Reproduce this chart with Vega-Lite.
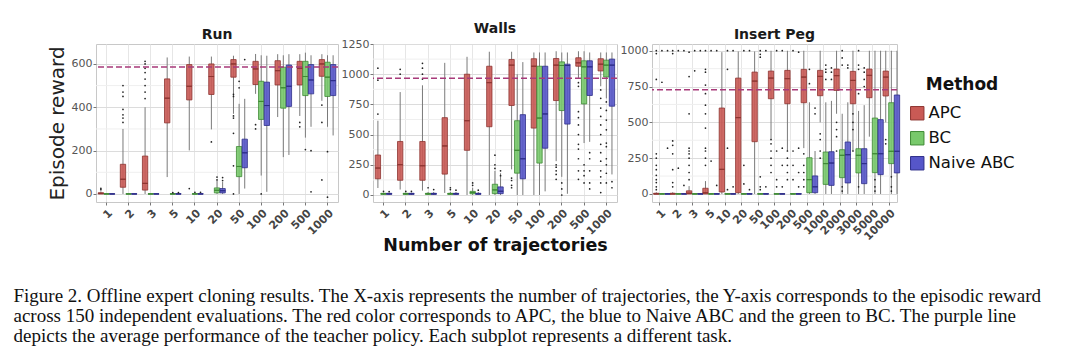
{
  "$schema": "https://vega.github.io/schema/vega-lite/v6.json",
  "background": "white",
  "padding": {"left": 13, "top": 21, "right": 5, "bottom": 5},
  "config": {
    "view": {"stroke": "#c8c8c8", "strokeWidth": 1},
    "font": "DejaVu Sans",
    "title": {"fontSize": 14, "fontWeight": "bold", "color": "#1a1a1a", "offset": 2},
    "axisY": {"labelOverlap": false, "labelColor": "#555", "labelFontSize": 11, "labelPadding": 1, "domain": false, "tickSize": 3, "tickColor": "#777", "gridColor": "#dcdcdc", "format": "d"},
    "legend": {"titleFontSize": 17, "titleFontWeight": "bold", "titleColor": "#111", "titleAnchor": "middle", "labelFontSize": 16.5, "labelColor": "#111", "labelOffset": 3, "symbolType": "square", "symbolSize": 180, "symbolStrokeWidth": 1, "rowPadding": 7, "offset": -25, "padding": 33, "titlePadding": 11}
  },
  "title": {
    "text": [
      "Figure 2. Offline expert cloning results. The X-axis represents the number of trajectories, the Y-axis corresponds to the episodic reward",
      "across 150 independent evaluations. The red color corresponds to APC, the blue to Naive ABC and the green to BC. The purple line",
      "depicts the average performance of the teacher policy. Each subplot represents a different task."
    ],
    "orient": "bottom",
    "anchor": "start",
    "frame": "bounds",
    "dx": -33,
    "offset": 33,
    "font": "Liberation Serif",
    "fontSize": 19,
    "fontWeight": "normal",
    "color": "#111",
    "lineHeight": 20
  },
  "datasets": {
    "minor": [
      {"t":"Run","v":100},{"t":"Run","v":300},{"t":"Run","v":500},
      {"t":"Walls","v":125},{"t":"Walls","v":375},{"t":"Walls","v":625},{"t":"Walls","v":875},{"t":"Walls","v":1125},
      {"t":"Insert Peg","v":125},{"t":"Insert Peg","v":375},{"t":"Insert Peg","v":625},{"t":"Insert Peg","v":875}
    ],
    "stats": [
      {"t":"Run","n":1,"m":"APC","lo":0,"q1":0,"md":2,"q3":6,"hi":12},
      {"t":"Run","n":1,"m":"BC","lo":0,"q1":0,"md":0,"q3":1,"hi":2},
      {"t":"Run","n":1,"m":"Naive ABC","lo":0,"q1":0,"md":0,"q3":1,"hi":2},
      {"t":"Run","n":2,"m":"APC","lo":0,"q1":31,"md":68,"q3":137,"hi":300},
      {"t":"Run","n":2,"m":"BC","lo":0,"q1":0,"md":0,"q3":1,"hi":2},
      {"t":"Run","n":2,"m":"Naive ABC","lo":0,"q1":0,"md":0,"q3":1,"hi":2},
      {"t":"Run","n":3,"m":"APC","lo":0,"q1":18,"md":49,"q3":175,"hi":400},
      {"t":"Run","n":3,"m":"BC","lo":0,"q1":0,"md":0,"q3":1,"hi":2},
      {"t":"Run","n":3,"m":"Naive ABC","lo":0,"q1":0,"md":0,"q3":1,"hi":2},
      {"t":"Run","n":5,"m":"APC","lo":78,"q1":328,"md":442,"q3":531,"hi":630},
      {"t":"Run","n":5,"m":"BC","lo":0,"q1":0,"md":0,"q3":1,"hi":2},
      {"t":"Run","n":5,"m":"Naive ABC","lo":0,"q1":0,"md":0,"q3":1,"hi":2},
      {"t":"Run","n":10,"m":"APC","lo":201,"q1":434,"md":497,"q3":597,"hi":634},
      {"t":"Run","n":10,"m":"BC","lo":0,"q1":0,"md":0,"q3":1,"hi":2},
      {"t":"Run","n":10,"m":"Naive ABC","lo":0,"q1":0,"md":0,"q3":1,"hi":2},
      {"t":"Run","n":20,"m":"APC","lo":298,"q1":459,"md":542,"q3":600,"hi":634},
      {"t":"Run","n":20,"m":"BC","lo":0,"q1":5,"md":17,"q3":28,"hi":60},
      {"t":"Run","n":20,"m":"Naive ABC","lo":0,"q1":5,"md":15,"q3":25,"hi":55},
      {"t":"Run","n":50,"m":"APC","lo":370,"q1":539,"md":600,"q3":620,"hi":638},
      {"t":"Run","n":50,"m":"BC","lo":0,"q1":80,"md":127,"q3":219,"hi":416},
      {"t":"Run","n":50,"m":"Naive ABC","lo":25,"q1":121,"md":190,"q3":253,"hi":439},
      {"t":"Run","n":100,"m":"APC","lo":462,"q1":505,"md":577,"q3":612,"hi":646},
      {"t":"Run","n":100,"m":"BC","lo":85,"q1":344,"md":427,"q3":520,"hi":640},
      {"t":"Run","n":100,"m":"Naive ABC","lo":10,"q1":316,"md":408,"q3":516,"hi":638},
      {"t":"Run","n":200,"m":"APC","lo":355,"q1":503,"md":569,"q3":615,"hi":645},
      {"t":"Run","n":200,"m":"BC","lo":170,"q1":396,"md":490,"q3":585,"hi":640},
      {"t":"Run","n":200,"m":"Naive ABC","lo":180,"q1":404,"md":497,"q3":595,"hi":645},
      {"t":"Run","n":500,"m":"APC","lo":360,"q1":503,"md":580,"q3":612,"hi":645},
      {"t":"Run","n":500,"m":"BC","lo":260,"q1":454,"md":542,"q3":612,"hi":652},
      {"t":"Run","n":500,"m":"Naive ABC","lo":310,"q1":462,"md":526,"q3":597,"hi":640},
      {"t":"Run","n":1000,"m":"APC","lo":430,"q1":543,"md":600,"q3":620,"hi":645},
      {"t":"Run","n":1000,"m":"BC","lo":310,"q1":450,"md":539,"q3":608,"hi":640},
      {"t":"Run","n":1000,"m":"Naive ABC","lo":270,"q1":454,"md":523,"q3":597,"hi":640},

      {"t":"Walls","n":1,"m":"APC","lo":58,"q1":134,"md":223,"q3":331,"hi":615},
      {"t":"Walls","n":1,"m":"BC","lo":0,"q1":5,"md":10,"q3":14,"hi":20},
      {"t":"Walls","n":1,"m":"Naive ABC","lo":0,"q1":5,"md":10,"q3":14,"hi":20},
      {"t":"Walls","n":2,"m":"APC","lo":45,"q1":122,"md":251,"q3":443,"hi":852},
      {"t":"Walls","n":2,"m":"BC","lo":0,"q1":5,"md":10,"q3":14,"hi":20},
      {"t":"Walls","n":2,"m":"Naive ABC","lo":0,"q1":5,"md":10,"q3":14,"hi":20},
      {"t":"Walls","n":3,"m":"APC","lo":36,"q1":122,"md":242,"q3":443,"hi":908},
      {"t":"Walls","n":3,"m":"BC","lo":0,"q1":5,"md":10,"q3":14,"hi":25},
      {"t":"Walls","n":3,"m":"Naive ABC","lo":0,"q1":5,"md":10,"q3":14,"hi":25},
      {"t":"Walls","n":5,"m":"APC","lo":17,"q1":173,"md":406,"q3":640,"hi":1094},
      {"t":"Walls","n":5,"m":"BC","lo":0,"q1":5,"md":10,"q3":14,"hi":25},
      {"t":"Walls","n":5,"m":"Naive ABC","lo":0,"q1":5,"md":10,"q3":14,"hi":25},
      {"t":"Walls","n":10,"m":"APC","lo":0,"q1":370,"md":615,"q3":1000,"hi":1144},
      {"t":"Walls","n":10,"m":"BC","lo":0,"q1":10,"md":20,"q3":30,"hi":60},
      {"t":"Walls","n":10,"m":"Naive ABC","lo":0,"q1":5,"md":10,"q3":14,"hi":25},
      {"t":"Walls","n":20,"m":"APC","lo":0,"q1":565,"md":930,"q3":1066,"hi":1186},
      {"t":"Walls","n":20,"m":"BC","lo":0,"q1":11,"md":42,"q3":89,"hi":200},
      {"t":"Walls","n":20,"m":"Naive ABC","lo":0,"q1":11,"md":31,"q3":67,"hi":180},
      {"t":"Walls","n":50,"m":"APC","lo":212,"q1":741,"md":1075,"q3":1122,"hi":1186},
      {"t":"Walls","n":50,"m":"BC","lo":0,"q1":181,"md":370,"q3":615,"hi":1000},
      {"t":"Walls","n":50,"m":"Naive ABC","lo":0,"q1":134,"md":300,"q3":665,"hi":1100},
      {"t":"Walls","n":100,"m":"APC","lo":0,"q1":554,"md":1066,"q3":1128,"hi":1180},
      {"t":"Walls","n":100,"m":"BC","lo":0,"q1":264,"md":637,"q3":1066,"hi":1180},
      {"t":"Walls","n":100,"m":"Naive ABC","lo":30,"q1":387,"md":671,"q3":1066,"hi":1180},
      {"t":"Walls","n":200,"m":"APC","lo":280,"q1":782,"md":1075,"q3":1130,"hi":1190},
      {"t":"Walls","n":200,"m":"BC","lo":150,"q1":699,"md":1072,"q3":1102,"hi":1180},
      {"t":"Walls","n":200,"m":"Naive ABC","lo":10,"q1":587,"md":1072,"q3":1083,"hi":1180},
      {"t":"Walls","n":500,"m":"APC","lo":960,"q1":1066,"md":1094,"q3":1136,"hi":1190},
      {"t":"Walls","n":500,"m":"BC","lo":430,"q1":754,"md":1061,"q3":1111,"hi":1190},
      {"t":"Walls","n":500,"m":"Naive ABC","lo":440,"q1":824,"md":1061,"q3":1111,"hi":1180},
      {"t":"Walls","n":1000,"m":"APC","lo":900,"q1":1027,"md":1083,"q3":1128,"hi":1180},
      {"t":"Walls","n":1000,"m":"BC","lo":800,"q1":977,"md":1075,"q3":1116,"hi":1180},
      {"t":"Walls","n":1000,"m":"Naive ABC","lo":170,"q1":735,"md":1075,"q3":1125,"hi":1180},

      {"t":"Insert Peg","n":1,"m":"APC","lo":0,"q1":0,"md":0,"q3":5,"hi":12},
      {"t":"Insert Peg","n":1,"m":"BC","lo":0,"q1":0,"md":0,"q3":2,"hi":5},
      {"t":"Insert Peg","n":1,"m":"Naive ABC","lo":0,"q1":0,"md":0,"q3":2,"hi":5},
      {"t":"Insert Peg","n":2,"m":"APC","lo":0,"q1":0,"md":0,"q3":5,"hi":12},
      {"t":"Insert Peg","n":2,"m":"BC","lo":0,"q1":0,"md":0,"q3":2,"hi":5},
      {"t":"Insert Peg","n":2,"m":"Naive ABC","lo":0,"q1":0,"md":0,"q3":2,"hi":5},
      {"t":"Insert Peg","n":3,"m":"APC","lo":0,"q1":0,"md":5,"q3":22,"hi":55},
      {"t":"Insert Peg","n":3,"m":"BC","lo":0,"q1":0,"md":0,"q3":2,"hi":5},
      {"t":"Insert Peg","n":3,"m":"Naive ABC","lo":0,"q1":0,"md":0,"q3":2,"hi":5},
      {"t":"Insert Peg","n":5,"m":"APC","lo":0,"q1":0,"md":8,"q3":40,"hi":90},
      {"t":"Insert Peg","n":5,"m":"BC","lo":0,"q1":0,"md":0,"q3":2,"hi":5},
      {"t":"Insert Peg","n":5,"m":"Naive ABC","lo":0,"q1":0,"md":0,"q3":2,"hi":5},
      {"t":"Insert Peg","n":10,"m":"APC","lo":0,"q1":14,"md":172,"q3":600,"hi":990},
      {"t":"Insert Peg","n":10,"m":"BC","lo":0,"q1":0,"md":0,"q3":2,"hi":5},
      {"t":"Insert Peg","n":10,"m":"Naive ABC","lo":0,"q1":0,"md":0,"q3":2,"hi":5},
      {"t":"Insert Peg","n":20,"m":"APC","lo":0,"q1":9,"md":533,"q3":809,"hi":995},
      {"t":"Insert Peg","n":20,"m":"BC","lo":0,"q1":0,"md":0,"q3":2,"hi":5},
      {"t":"Insert Peg","n":20,"m":"Naive ABC","lo":0,"q1":0,"md":0,"q3":2,"hi":5},
      {"t":"Insert Peg","n":50,"m":"APC","lo":0,"q1":365,"md":788,"q3":851,"hi":995},
      {"t":"Insert Peg","n":50,"m":"BC","lo":0,"q1":0,"md":0,"q3":2,"hi":5},
      {"t":"Insert Peg","n":50,"m":"Naive ABC","lo":0,"q1":0,"md":0,"q3":2,"hi":5},
      {"t":"Insert Peg","n":100,"m":"APC","lo":380,"q1":665,"md":809,"q3":858,"hi":1000},
      {"t":"Insert Peg","n":100,"m":"BC","lo":0,"q1":0,"md":0,"q3":2,"hi":5},
      {"t":"Insert Peg","n":100,"m":"Naive ABC","lo":0,"q1":0,"md":0,"q3":2,"hi":5},
      {"t":"Insert Peg","n":200,"m":"APC","lo":300,"q1":630,"md":805,"q3":863,"hi":1000},
      {"t":"Insert Peg","n":200,"m":"BC","lo":0,"q1":0,"md":0,"q3":2,"hi":5},
      {"t":"Insert Peg","n":200,"m":"Naive ABC","lo":0,"q1":0,"md":0,"q3":2,"hi":5},
      {"t":"Insert Peg","n":500,"m":"APC","lo":320,"q1":637,"md":816,"q3":870,"hi":1000},
      {"t":"Insert Peg","n":500,"m":"BC","lo":0,"q1":9,"md":100,"q3":253,"hi":640},
      {"t":"Insert Peg","n":500,"m":"Naive ABC","lo":0,"q1":9,"md":50,"q3":126,"hi":300},
      {"t":"Insert Peg","n":1000,"m":"APC","lo":500,"q1":686,"md":821,"q3":863,"hi":1000},
      {"t":"Insert Peg","n":1000,"m":"BC","lo":0,"q1":67,"md":212,"q3":293,"hi":640},
      {"t":"Insert Peg","n":1000,"m":"Naive ABC","lo":0,"q1":60,"md":216,"q3":295,"hi":650},
      {"t":"Insert Peg","n":2000,"m":"APC","lo":560,"q1":723,"md":826,"q3":872,"hi":1000},
      {"t":"Insert Peg","n":2000,"m":"BC","lo":0,"q1":114,"md":270,"q3":309,"hi":560},
      {"t":"Insert Peg","n":2000,"m":"Naive ABC","lo":0,"q1":77,"md":274,"q3":363,"hi":640},
      {"t":"Insert Peg","n":3000,"m":"APC","lo":300,"q1":630,"md":793,"q3":856,"hi":1000},
      {"t":"Insert Peg","n":3000,"m":"BC","lo":0,"q1":147,"md":270,"q3":316,"hi":580},
      {"t":"Insert Peg","n":3000,"m":"Naive ABC","lo":0,"q1":72,"md":212,"q3":316,"hi":620},
      {"t":"Insert Peg","n":5000,"m":"APC","lo":400,"q1":672,"md":828,"q3":872,"hi":1000},
      {"t":"Insert Peg","n":5000,"m":"BC","lo":0,"q1":149,"md":281,"q3":530,"hi":1000},
      {"t":"Insert Peg","n":5000,"m":"Naive ABC","lo":0,"q1":135,"md":281,"q3":519,"hi":1000},
      {"t":"Insert Peg","n":10000,"m":"APC","lo":500,"q1":684,"md":816,"q3":858,"hi":1000},
      {"t":"Insert Peg","n":10000,"m":"BC","lo":0,"q1":212,"md":298,"q3":637,"hi":1000},
      {"t":"Insert Peg","n":10000,"m":"Naive ABC","lo":0,"q1":147,"md":298,"q3":691,"hi":1000}
    ],
    "outliers": [
      {"t":"Run","n":1,"m":"APC","v":20},{"t":"Run","n":1,"m":"APC","v":26},
      {"t":"Run","n":2,"m":"APC","v":330},{"t":"Run","n":2,"m":"APC","v":350},{"t":"Run","n":2,"m":"APC","v":365},{"t":"Run","n":2,"m":"APC","v":390},{"t":"Run","n":2,"m":"APC","v":450},{"t":"Run","n":2,"m":"APC","v":470},{"t":"Run","n":2,"m":"APC","v":500},
      {"t":"Run","n":3,"m":"APC","v":440},{"t":"Run","n":3,"m":"APC","v":470},{"t":"Run","n":3,"m":"APC","v":500},{"t":"Run","n":3,"m":"APC","v":530},{"t":"Run","n":3,"m":"APC","v":560},{"t":"Run","n":3,"m":"APC","v":580},{"t":"Run","n":3,"m":"APC","v":600},{"t":"Run","n":3,"m":"APC","v":612},
      {"t":"Run","n":5,"m":"BC","v":6},{"t":"Run","n":5,"m":"Naive ABC","v":6},
      {"t":"Run","n":10,"m":"APC","v":25},{"t":"Run","n":10,"m":"BC","v":8},{"t":"Run","n":10,"m":"Naive ABC","v":8},
      {"t":"Run","n":20,"m":"APC","v":240},{"t":"Run","n":20,"m":"BC","v":65},{"t":"Run","n":20,"m":"BC","v":78},{"t":"Run","n":20,"m":"Naive ABC","v":62},{"t":"Run","n":20,"m":"Naive ABC","v":76},
      {"t":"Run","n":50,"m":"APC","v":460},{"t":"Run","n":50,"m":"APC","v":450},{"t":"Run","n":50,"m":"APC","v":360},{"t":"Run","n":50,"m":"APC","v":350},{"t":"Run","n":50,"m":"APC","v":280},{"t":"Run","n":50,"m":"APC","v":130},{"t":"Run","n":50,"m":"APC","v":0},{"t":"Run","n":50,"m":"BC","v":520},{"t":"Run","n":50,"m":"BC","v":490},{"t":"Run","n":50,"m":"Naive ABC","v":620},
      {"t":"Run","n":100,"m":"APC","v":320},{"t":"Run","n":100,"m":"APC","v":300},{"t":"Run","n":100,"m":"BC","v":0},
      {"t":"Run","n":500,"m":"APC","v":330},{"t":"Run","n":500,"m":"APC","v":310},{"t":"Run","n":500,"m":"BC","v":205},{"t":"Run","n":500,"m":"Naive ABC","v":200},{"t":"Run","n":500,"m":"Naive ABC","v":10},
      {"t":"Run","n":1000,"m":"APC","v":410},{"t":"Run","n":1000,"m":"APC","v":330},{"t":"Run","n":1000,"m":"APC","v":65},{"t":"Run","n":1000,"m":"BC","v":195},{"t":"Run","n":1000,"m":"BC","v":-15},

      {"t":"Walls","n":1,"m":"APC","v":670},{"t":"Walls","n":1,"m":"APC","v":950},{"t":"Walls","n":1,"m":"APC","v":1050},{"t":"Walls","n":1,"m":"BC","v":30},{"t":"Walls","n":1,"m":"Naive ABC","v":28},
      {"t":"Walls","n":2,"m":"APC","v":1000},{"t":"Walls","n":2,"m":"APC","v":1040},{"t":"Walls","n":2,"m":"BC","v":30},{"t":"Walls","n":2,"m":"Naive ABC","v":30},
      {"t":"Walls","n":3,"m":"APC","v":960},{"t":"Walls","n":3,"m":"APC","v":1000},{"t":"Walls","n":3,"m":"APC","v":1050},{"t":"Walls","n":3,"m":"APC","v":1090},{"t":"Walls","n":3,"m":"BC","v":60},{"t":"Walls","n":3,"m":"Naive ABC","v":45},
      {"t":"Walls","n":5,"m":"BC","v":60},{"t":"Walls","n":5,"m":"BC","v":45},{"t":"Walls","n":5,"m":"Naive ABC","v":40},
      {"t":"Walls","n":10,"m":"BC","v":100},{"t":"Walls","n":10,"m":"BC","v":80},{"t":"Walls","n":10,"m":"Naive ABC","v":40},
      {"t":"Walls","n":20,"m":"BC","v":330},{"t":"Walls","n":20,"m":"BC","v":250},{"t":"Walls","n":20,"m":"BC","v":220},{"t":"Walls","n":20,"m":"Naive ABC","v":200},{"t":"Walls","n":20,"m":"Naive ABC","v":160},
      {"t":"Walls","n":50,"m":"APC","v":140},{"t":"Walls","n":50,"m":"APC","v":120},{"t":"Walls","n":50,"m":"APC","v":80},{"t":"Walls","n":50,"m":"APC","v":60},
      {"t":"Walls","n":200,"m":"APC","v":250},{"t":"Walls","n":200,"m":"APC","v":230},{"t":"Walls","n":200,"m":"APC","v":200},{"t":"Walls","n":200,"m":"APC","v":170},{"t":"Walls","n":200,"m":"APC","v":130},{"t":"Walls","n":200,"m":"BC","v":100},{"t":"Walls","n":200,"m":"BC","v":50},{"t":"Walls","n":200,"m":"BC","v":0},
      {"t":"Walls","n":500,"m":"APC","v":930},{"t":"Walls","n":500,"m":"APC","v":900},{"t":"Walls","n":500,"m":"APC","v":690},{"t":"Walls","n":500,"m":"APC","v":640},{"t":"Walls","n":500,"m":"APC","v":580},{"t":"Walls","n":500,"m":"APC","v":500},{"t":"Walls","n":500,"m":"APC","v":420},{"t":"Walls","n":500,"m":"APC","v":380},{"t":"Walls","n":500,"m":"APC","v":300},{"t":"Walls","n":500,"m":"APC","v":200},{"t":"Walls","n":500,"m":"APC","v":130},
      {"t":"Walls","n":500,"m":"BC","v":250},{"t":"Walls","n":500,"m":"BC","v":200},{"t":"Walls","n":500,"m":"BC","v":160},{"t":"Walls","n":500,"m":"BC","v":100},{"t":"Walls","n":500,"m":"Naive ABC","v":350},{"t":"Walls","n":500,"m":"Naive ABC","v":300},{"t":"Walls","n":500,"m":"Naive ABC","v":200},{"t":"Walls","n":500,"m":"Naive ABC","v":100},{"t":"Walls","n":500,"m":"Naive ABC","v":50},
      {"t":"Walls","n":1000,"m":"APC","v":870},{"t":"Walls","n":1000,"m":"APC","v":800},{"t":"Walls","n":1000,"m":"APC","v":720},{"t":"Walls","n":1000,"m":"APC","v":650},{"t":"Walls","n":1000,"m":"APC","v":580},{"t":"Walls","n":1000,"m":"APC","v":500},{"t":"Walls","n":1000,"m":"APC","v":420},{"t":"Walls","n":1000,"m":"APC","v":350},{"t":"Walls","n":1000,"m":"APC","v":280},{"t":"Walls","n":1000,"m":"APC","v":200},{"t":"Walls","n":1000,"m":"APC","v":150},{"t":"Walls","n":1000,"m":"APC","v":100},{"t":"Walls","n":1000,"m":"APC","v":20},
      {"t":"Walls","n":1000,"m":"BC","v":770},{"t":"Walls","n":1000,"m":"BC","v":700},{"t":"Walls","n":1000,"m":"BC","v":620},{"t":"Walls","n":1000,"m":"BC","v":540},{"t":"Walls","n":1000,"m":"BC","v":430},{"t":"Walls","n":1000,"m":"BC","v":400},{"t":"Walls","n":1000,"m":"BC","v":300},{"t":"Walls","n":1000,"m":"BC","v":250},{"t":"Walls","n":1000,"m":"BC","v":180},{"t":"Walls","n":1000,"m":"BC","v":100},{"t":"Walls","n":1000,"m":"Naive ABC","v":110},{"t":"Walls","n":1000,"m":"Naive ABC","v":60},

      {"t":"Insert Peg","n":1,"m":"APC","v":1000},{"t":"Insert Peg","n":1,"m":"APC","v":980},{"t":"Insert Peg","n":1,"m":"APC","v":800},{"t":"Insert Peg","n":1,"m":"APC","v":280},{"t":"Insert Peg","n":1,"m":"APC","v":250},{"t":"Insert Peg","n":1,"m":"APC","v":200},{"t":"Insert Peg","n":1,"m":"APC","v":170},{"t":"Insert Peg","n":1,"m":"APC","v":130},{"t":"Insert Peg","n":1,"m":"APC","v":100},{"t":"Insert Peg","n":1,"m":"APC","v":80},{"t":"Insert Peg","n":1,"m":"APC","v":50},{"t":"Insert Peg","n":1,"m":"APC","v":30},{"t":"Insert Peg","n":1,"m":"BC","v":1000},{"t":"Insert Peg","n":1,"m":"BC","v":780},{"t":"Insert Peg","n":1,"m":"Naive ABC","v":1000},{"t":"Insert Peg","n":1,"m":"Naive ABC","v":320},
      {"t":"Insert Peg","n":2,"m":"APC","v":1000},{"t":"Insert Peg","n":2,"m":"APC","v":980},{"t":"Insert Peg","n":2,"m":"APC","v":370},{"t":"Insert Peg","n":2,"m":"APC","v":340},{"t":"Insert Peg","n":2,"m":"APC","v":280},{"t":"Insert Peg","n":2,"m":"APC","v":170},{"t":"Insert Peg","n":2,"m":"APC","v":80},{"t":"Insert Peg","n":2,"m":"APC","v":50},{"t":"Insert Peg","n":2,"m":"BC","v":1000},{"t":"Insert Peg","n":2,"m":"BC","v":180},{"t":"Insert Peg","n":2,"m":"Naive ABC","v":1000},{"t":"Insert Peg","n":2,"m":"Naive ABC","v":60},
      {"t":"Insert Peg","n":3,"m":"APC","v":990},{"t":"Insert Peg","n":3,"m":"APC","v":820},{"t":"Insert Peg","n":3,"m":"APC","v":560},{"t":"Insert Peg","n":3,"m":"APC","v":320},{"t":"Insert Peg","n":3,"m":"APC","v":300},{"t":"Insert Peg","n":3,"m":"APC","v":280},{"t":"Insert Peg","n":3,"m":"APC","v":250},{"t":"Insert Peg","n":3,"m":"APC","v":200},{"t":"Insert Peg","n":3,"m":"APC","v":150},{"t":"Insert Peg","n":3,"m":"APC","v":100},{"t":"Insert Peg","n":3,"m":"BC","v":1000},{"t":"Insert Peg","n":3,"m":"BC","v":860},{"t":"Insert Peg","n":3,"m":"Naive ABC","v":1000},
      {"t":"Insert Peg","n":5,"m":"APC","v":1000},{"t":"Insert Peg","n":5,"m":"APC","v":870},{"t":"Insert Peg","n":5,"m":"APC","v":850},{"t":"Insert Peg","n":5,"m":"APC","v":760},{"t":"Insert Peg","n":5,"m":"APC","v":700},{"t":"Insert Peg","n":5,"m":"APC","v":620},{"t":"Insert Peg","n":5,"m":"APC","v":560},{"t":"Insert Peg","n":5,"m":"APC","v":460},{"t":"Insert Peg","n":5,"m":"APC","v":320},{"t":"Insert Peg","n":5,"m":"APC","v":300},{"t":"Insert Peg","n":5,"m":"APC","v":250},{"t":"Insert Peg","n":5,"m":"APC","v":200},{"t":"Insert Peg","n":5,"m":"BC","v":1000},{"t":"Insert Peg","n":5,"m":"BC","v":230},{"t":"Insert Peg","n":5,"m":"Naive ABC","v":1000},{"t":"Insert Peg","n":5,"m":"Naive ABC","v":60},
      {"t":"Insert Peg","n":10,"m":"BC","v":1000},{"t":"Insert Peg","n":10,"m":"BC","v":870},{"t":"Insert Peg","n":10,"m":"BC","v":320},{"t":"Insert Peg","n":10,"m":"BC","v":30},{"t":"Insert Peg","n":10,"m":"Naive ABC","v":1000},{"t":"Insert Peg","n":10,"m":"Naive ABC","v":50},
      {"t":"Insert Peg","n":20,"m":"BC","v":1000},{"t":"Insert Peg","n":20,"m":"BC","v":200},{"t":"Insert Peg","n":20,"m":"BC","v":70},{"t":"Insert Peg","n":20,"m":"Naive ABC","v":1000},{"t":"Insert Peg","n":20,"m":"Naive ABC","v":30},
      {"t":"Insert Peg","n":50,"m":"BC","v":1000},{"t":"Insert Peg","n":50,"m":"BC","v":975},{"t":"Insert Peg","n":50,"m":"BC","v":955},{"t":"Insert Peg","n":50,"m":"BC","v":120},{"t":"Insert Peg","n":50,"m":"BC","v":50},{"t":"Insert Peg","n":50,"m":"BC","v":30},{"t":"Insert Peg","n":50,"m":"Naive ABC","v":1000},{"t":"Insert Peg","n":50,"m":"Naive ABC","v":50},
      {"t":"Insert Peg","n":100,"m":"APC","v":380},{"t":"Insert Peg","n":100,"m":"APC","v":350},{"t":"Insert Peg","n":100,"m":"APC","v":300},{"t":"Insert Peg","n":100,"m":"APC","v":250},{"t":"Insert Peg","n":100,"m":"APC","v":200},{"t":"Insert Peg","n":100,"m":"APC","v":150},{"t":"Insert Peg","n":100,"m":"BC","v":1000},{"t":"Insert Peg","n":100,"m":"BC","v":300},{"t":"Insert Peg","n":100,"m":"BC","v":100},{"t":"Insert Peg","n":100,"m":"BC","v":50},{"t":"Insert Peg","n":100,"m":"Naive ABC","v":1000},{"t":"Insert Peg","n":100,"m":"Naive ABC","v":320},{"t":"Insert Peg","n":100,"m":"Naive ABC","v":200},{"t":"Insert Peg","n":100,"m":"Naive ABC","v":50},
      {"t":"Insert Peg","n":200,"m":"APC","v":300},{"t":"Insert Peg","n":200,"m":"APC","v":250},{"t":"Insert Peg","n":200,"m":"APC","v":200},{"t":"Insert Peg","n":200,"m":"APC","v":150},{"t":"Insert Peg","n":200,"m":"APC","v":100},{"t":"Insert Peg","n":200,"m":"BC","v":1000},{"t":"Insert Peg","n":200,"m":"BC","v":300},{"t":"Insert Peg","n":200,"m":"BC","v":200},{"t":"Insert Peg","n":200,"m":"BC","v":100},{"t":"Insert Peg","n":200,"m":"Naive ABC","v":990},{"t":"Insert Peg","n":200,"m":"Naive ABC","v":320},{"t":"Insert Peg","n":200,"m":"Naive ABC","v":150},{"t":"Insert Peg","n":200,"m":"Naive ABC","v":50},
      {"t":"Insert Peg","n":500,"m":"APC","v":280},{"t":"Insert Peg","n":500,"m":"APC","v":200},{"t":"Insert Peg","n":500,"m":"APC","v":150},{"t":"Insert Peg","n":500,"m":"APC","v":100},{"t":"Insert Peg","n":500,"m":"APC","v":50},{"t":"Insert Peg","n":500,"m":"BC","v":870},{"t":"Insert Peg","n":500,"m":"BC","v":770},{"t":"Insert Peg","n":500,"m":"Naive ABC","v":600},{"t":"Insert Peg","n":500,"m":"Naive ABC","v":560},
      {"t":"Insert Peg","n":1000,"m":"APC","v":420},{"t":"Insert Peg","n":1000,"m":"APC","v":380},{"t":"Insert Peg","n":1000,"m":"APC","v":300},{"t":"Insert Peg","n":1000,"m":"APC","v":250},{"t":"Insert Peg","n":1000,"m":"BC","v":900},{"t":"Insert Peg","n":1000,"m":"BC","v":870},{"t":"Insert Peg","n":1000,"m":"BC","v":850},{"t":"Insert Peg","n":1000,"m":"BC","v":800},{"t":"Insert Peg","n":1000,"m":"Naive ABC","v":880},{"t":"Insert Peg","n":1000,"m":"Naive ABC","v":850},{"t":"Insert Peg","n":1000,"m":"Naive ABC","v":800},
      {"t":"Insert Peg","n":2000,"m":"APC","v":500},{"t":"Insert Peg","n":2000,"m":"APC","v":450},{"t":"Insert Peg","n":2000,"m":"APC","v":400},{"t":"Insert Peg","n":2000,"m":"APC","v":300},{"t":"Insert Peg","n":2000,"m":"BC","v":1000},{"t":"Insert Peg","n":2000,"m":"BC","v":950},{"t":"Insert Peg","n":2000,"m":"BC","v":900},{"t":"Insert Peg","n":2000,"m":"BC","v":50},{"t":"Insert Peg","n":2000,"m":"BC","v":20},{"t":"Insert Peg","n":2000,"m":"Naive ABC","v":900},{"t":"Insert Peg","n":2000,"m":"Naive ABC","v":880},
      {"t":"Insert Peg","n":3000,"m":"APC","v":560},{"t":"Insert Peg","n":3000,"m":"APC","v":500},{"t":"Insert Peg","n":3000,"m":"APC","v":450},{"t":"Insert Peg","n":3000,"m":"APC","v":300},{"t":"Insert Peg","n":3000,"m":"BC","v":1000},{"t":"Insert Peg","n":3000,"m":"BC","v":900},{"t":"Insert Peg","n":3000,"m":"BC","v":870},{"t":"Insert Peg","n":3000,"m":"BC","v":700},{"t":"Insert Peg","n":3000,"m":"BC","v":50},{"t":"Insert Peg","n":3000,"m":"Naive ABC","v":880},{"t":"Insert Peg","n":3000,"m":"Naive ABC","v":850},{"t":"Insert Peg","n":3000,"m":"Naive ABC","v":800},{"t":"Insert Peg","n":3000,"m":"Naive ABC","v":750},
      {"t":"Insert Peg","n":5000,"m":"BC","v":100},{"t":"Insert Peg","n":5000,"m":"BC","v":50},{"t":"Insert Peg","n":5000,"m":"BC","v":20},
      {"t":"Insert Peg","n":10000,"m":"BC","v":120},{"t":"Insert Peg","n":10000,"m":"BC","v":50},{"t":"Insert Peg","n":10000,"m":"BC","v":20},{"t":"Insert Peg","n":10000,"m":"APC","v":380},{"t":"Insert Peg","n":10000,"m":"APC","v":350}
    ],
    "teacher": [
      {"t":"Run","v":586},
      {"t":"Walls","v":967},
      {"t":"Insert Peg","v":728}
    ]
  },
  "spacing": 0,
  "hconcat": [
    {
      "width": 242, "height": 158,
      "title": "Run",
      "layer": [
        {
          "data": {"name": "minor"},
          "transform": [{"filter": "datum.t === 'Run'"}],
          "mark": {"type": "rule", "color": "#efefef", "strokeWidth": 1},
          "encoding": {
            "y": {"field": "v", "type": "quantitative", "axis": {"title": "Episode reward", "titleFontSize": 20, "titleFontWeight": "normal", "titleColor": "#222", "titlePadding": 4, "values": [0, 200, 400, 600], "labelOverlap": false}}
          }
        },
        {
          "data": {"name": "stats"},
          "transform": [{"filter": "datum.t === 'Run'"}],
          "mark": {"type": "rule", "color": "#7a7a7a", "strokeWidth": 1},
          "encoding": {
            "x": {"field": "n", "type": "ordinal", "scale": {"paddingInner": 0.25, "paddingOuter": 0.1},
              "axis": {"title": null, "labelAngle": -45, "labelFontWeight": "bold", "labelFontSize": 11, "labelColor": "#444", "grid": true, "gridColor": "#e6e6e6", "bandPosition": 0.5, "tickSize": 3, "tickColor": "#777", "domain": false}},
            "xOffset": {"field": "m", "type": "nominal", "scale": {"domain": ["APC", "BC", "Naive ABC"], "paddingInner": 0.05}},
            "y": {"field": "lo", "type": "quantitative", "scale": {"domain": [-37, 692], "nice": false, "zero": false},
              "axis": {"title": "Episode reward", "titleFontSize": 20, "titleFontWeight": "normal", "titleColor": "#222", "titlePadding": 4, "values": [0, 200, 400, 600], "labelOverlap": false}},
            "y2": {"field": "hi"}
          }
        },
        {
          "data": {"name": "stats"},
          "transform": [{"filter": "datum.t === 'Run'"}],
          "mark": {"type": "bar", "strokeWidth": 0.8, "fillOpacity": 0.9},
          "encoding": {
            "x": {"field": "n", "type": "ordinal"},
            "xOffset": {"field": "m", "type": "nominal"},
            "y": {"field": "q1", "type": "quantitative", "axis": {"title": "Episode reward", "titleFontSize": 20, "titleFontWeight": "normal", "titleColor": "#222", "titlePadding": 4, "values": [0, 200, 400, 600], "labelOverlap": false}},
            "y2": {"field": "q3"},
            "color": {"field": "m", "type": "nominal", "title": "Method", "scale": {"domain": ["APC", "BC", "Naive ABC"], "range": ["#c95a55", "#78c96b", "#5656c9"]}},
            "stroke": {"field": "m", "type": "nominal", "title": "Method", "scale": {"domain": ["APC", "BC", "Naive ABC"], "range": ["#8e3531", "#3f8a35", "#2e2e8a"]}}
          }
        },
        {
          "data": {"name": "stats"},
          "transform": [{"filter": "datum.t === 'Run'"}],
          "mark": {"type": "bar", "strokeWidth": 1, "fillOpacity": 0},
          "encoding": {
            "x": {"field": "n", "type": "ordinal"},
            "xOffset": {"field": "m", "type": "nominal"},
            "y": {"field": "md", "type": "quantitative", "axis": {"title": "Episode reward", "titleFontSize": 20, "titleFontWeight": "normal", "titleColor": "#222", "titlePadding": 4, "values": [0, 200, 400, 600], "labelOverlap": false}},
            "y2": {"field": "md"},
            "stroke": {"field": "m", "type": "nominal", "title": "Method"}
          }
        },
        {
          "data": {"name": "outliers"},
          "transform": [{"filter": "datum.t === 'Run'"}],
          "mark": {"type": "point", "filled": true, "size": 3, "color": "#222", "opacity": 1},
          "encoding": {
            "x": {"field": "n", "type": "ordinal"},
            "xOffset": {"field": "m", "type": "nominal"},
            "y": {"field": "v", "type": "quantitative", "axis": {"title": "Episode reward", "titleFontSize": 20, "titleFontWeight": "normal", "titleColor": "#222", "titlePadding": 4, "values": [0, 200, 400, 600], "labelOverlap": false}}
          }
        },
        {
          "data": {"name": "teacher"},
          "transform": [{"filter": "datum.t === 'Run'"}],
          "mark": {"type": "rule", "color": "#a83a7a", "strokeWidth": 1.5, "strokeDash": [6, 3]},
          "encoding": {
            "y": {"field": "v", "type": "quantitative", "axis": {"title": "Episode reward", "titleFontSize": 20, "titleFontWeight": "normal", "titleColor": "#222", "titlePadding": 4, "values": [0, 200, 400, 600], "labelOverlap": false}}
          }
        }
      ]
    },
    {
      "width": 244, "height": 158,
      "title": "Walls",
      "layer": [
        {
          "data": {"name": "minor"},
          "transform": [{"filter": "datum.t === 'Walls'"}],
          "mark": {"type": "rule", "color": "#efefef", "strokeWidth": 1},
          "encoding": {
            "y": {"field": "v", "type": "quantitative", "axis": {"title": null, "values": [0, 250, 500, 750, 1000, 1250], "labelOverlap": false}}
          }
        },
        {
          "data": {"name": "stats"},
          "transform": [{"filter": "datum.t === 'Walls'"}],
          "mark": {"type": "rule", "color": "#7a7a7a", "strokeWidth": 1},
          "encoding": {
            "x": {"field": "n", "type": "ordinal", "scale": {"paddingInner": 0.25, "paddingOuter": 0.1},
              "axis": {"title": "Number of trajectories", "titleFontSize": 17.5, "titleFontWeight": "bold", "titleColor": "#111", "titlePadding": 0,
                "labelAngle": -45, "labelFontWeight": "bold", "labelFontSize": 11, "labelColor": "#444", "grid": true, "gridColor": "#e6e6e6", "bandPosition": 0.5, "tickSize": 3, "tickColor": "#777", "domain": false}},
            "xOffset": {"field": "m", "type": "nominal", "scale": {"domain": ["APC", "BC", "Naive ABC"], "paddingInner": 0.05}},
            "y": {"field": "lo", "type": "quantitative", "scale": {"domain": [-58, 1250], "nice": false, "zero": false},
              "axis": {"title": null, "values": [0, 250, 500, 750, 1000, 1250], "labelOverlap": false}},
            "y2": {"field": "hi"}
          }
        },
        {
          "data": {"name": "stats"},
          "transform": [{"filter": "datum.t === 'Walls'"}],
          "mark": {"type": "bar", "strokeWidth": 0.8, "fillOpacity": 0.9},
          "encoding": {
            "x": {"field": "n", "type": "ordinal"},
            "xOffset": {"field": "m", "type": "nominal"},
            "y": {"field": "q1", "type": "quantitative", "axis": {"title": null, "values": [0, 250, 500, 750, 1000, 1250], "labelOverlap": false}},
            "y2": {"field": "q3"},
            "color": {"field": "m", "type": "nominal", "title": "Method"},
            "stroke": {"field": "m", "type": "nominal", "title": "Method"}
          }
        },
        {
          "data": {"name": "stats"},
          "transform": [{"filter": "datum.t === 'Walls'"}],
          "mark": {"type": "bar", "strokeWidth": 1, "fillOpacity": 0},
          "encoding": {
            "x": {"field": "n", "type": "ordinal"},
            "xOffset": {"field": "m", "type": "nominal"},
            "y": {"field": "md", "type": "quantitative", "axis": {"title": null, "values": [0, 250, 500, 750, 1000, 1250], "labelOverlap": false}},
            "y2": {"field": "md"},
            "stroke": {"field": "m", "type": "nominal", "title": "Method"}
          }
        },
        {
          "data": {"name": "outliers"},
          "transform": [{"filter": "datum.t === 'Walls'"}],
          "mark": {"type": "point", "filled": true, "size": 3, "color": "#222", "opacity": 1},
          "encoding": {
            "x": {"field": "n", "type": "ordinal"},
            "xOffset": {"field": "m", "type": "nominal"},
            "y": {"field": "v", "type": "quantitative", "axis": {"title": null, "values": [0, 250, 500, 750, 1000, 1250], "labelOverlap": false}}
          }
        },
        {
          "data": {"name": "teacher"},
          "transform": [{"filter": "datum.t === 'Walls'"}],
          "mark": {"type": "rule", "color": "#a83a7a", "strokeWidth": 1.5, "strokeDash": [6, 3]},
          "encoding": {
            "y": {"field": "v", "type": "quantitative", "axis": {"title": null, "values": [0, 250, 500, 750, 1000, 1250], "labelOverlap": false}}
          }
        }
      ]
    },
    {
      "width": 245, "height": 158,
      "title": "Insert Peg",
      "layer": [
        {
          "data": {"name": "minor"},
          "transform": [{"filter": "datum.t === 'Insert Peg'"}],
          "mark": {"type": "rule", "color": "#efefef", "strokeWidth": 1},
          "encoding": {
            "y": {"field": "v", "type": "quantitative", "axis": {"title": null, "values": [0, 250, 500, 750, 1000], "labelOverlap": false}}
          }
        },
        {
          "data": {"name": "stats"},
          "transform": [{"filter": "datum.t === 'Insert Peg'"}],
          "mark": {"type": "rule", "color": "#7a7a7a", "strokeWidth": 1},
          "encoding": {
            "x": {"field": "n", "type": "ordinal", "scale": {"paddingInner": 0.25, "paddingOuter": 0.1},
              "axis": {"title": null, "labelAngle": -45, "labelFontWeight": "bold", "labelFontSize": 11, "labelColor": "#444", "grid": true, "gridColor": "#e6e6e6", "bandPosition": 0.5, "tickSize": 3, "tickColor": "#777", "domain": false}},
            "xOffset": {"field": "m", "type": "nominal", "scale": {"domain": ["APC", "BC", "Naive ABC"], "paddingInner": 0.05}},
            "y": {"field": "lo", "type": "quantitative", "scale": {"domain": [-56, 1047], "nice": false, "zero": false},
              "axis": {"title": null, "values": [0, 250, 500, 750, 1000], "labelOverlap": false}},
            "y2": {"field": "hi"}
          }
        },
        {
          "data": {"name": "stats"},
          "transform": [{"filter": "datum.t === 'Insert Peg'"}],
          "mark": {"type": "bar", "strokeWidth": 0.8, "fillOpacity": 0.9},
          "encoding": {
            "x": {"field": "n", "type": "ordinal"},
            "xOffset": {"field": "m", "type": "nominal"},
            "y": {"field": "q1", "type": "quantitative", "axis": {"title": null, "values": [0, 250, 500, 750, 1000], "labelOverlap": false}},
            "y2": {"field": "q3"},
            "color": {"field": "m", "type": "nominal", "title": "Method"},
            "stroke": {"field": "m", "type": "nominal", "title": "Method"}
          }
        },
        {
          "data": {"name": "stats"},
          "transform": [{"filter": "datum.t === 'Insert Peg'"}],
          "mark": {"type": "bar", "strokeWidth": 1, "fillOpacity": 0},
          "encoding": {
            "x": {"field": "n", "type": "ordinal"},
            "xOffset": {"field": "m", "type": "nominal"},
            "y": {"field": "md", "type": "quantitative", "axis": {"title": null, "values": [0, 250, 500, 750, 1000], "labelOverlap": false}},
            "y2": {"field": "md"},
            "stroke": {"field": "m", "type": "nominal", "title": "Method"}
          }
        },
        {
          "data": {"name": "outliers"},
          "transform": [{"filter": "datum.t === 'Insert Peg'"}],
          "mark": {"type": "point", "filled": true, "size": 3, "color": "#222", "opacity": 1},
          "encoding": {
            "x": {"field": "n", "type": "ordinal"},
            "xOffset": {"field": "m", "type": "nominal"},
            "y": {"field": "v", "type": "quantitative", "axis": {"title": null, "values": [0, 250, 500, 750, 1000], "labelOverlap": false}}
          }
        },
        {
          "data": {"name": "teacher"},
          "transform": [{"filter": "datum.t === 'Insert Peg'"}],
          "mark": {"type": "rule", "color": "#a83a7a", "strokeWidth": 1.5, "strokeDash": [6, 3]},
          "encoding": {
            "y": {"field": "v", "type": "quantitative", "axis": {"title": null, "values": [0, 250, 500, 750, 1000], "labelOverlap": false}}
          }
        }
      ]
    }
  ]
}
